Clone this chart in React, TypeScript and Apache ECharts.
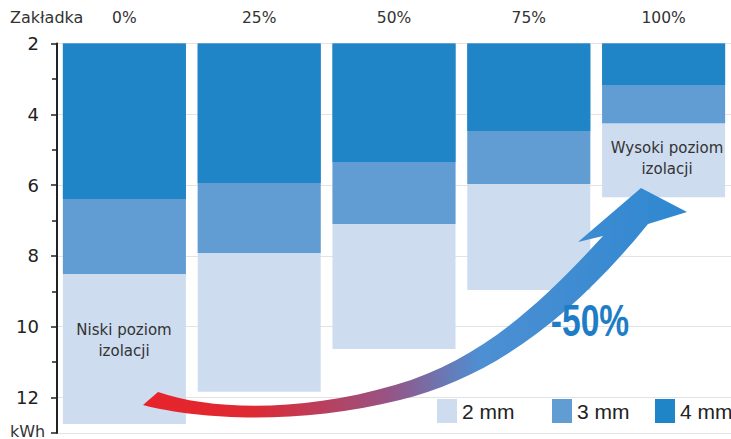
import React, { useEffect, useRef } from 'react';
import * as echarts from 'echarts';

const categories = ['0%', '25%', '50%', '75%', '100%'];
const seriesNames = ['2 mm', '3 mm', '4 mm'];
const mm2 = [12.75, 11.84, 10.63, 8.96, 6.34];
const mm3 = [8.51, 7.92, 7.1, 5.97, 4.25];
const mm4 = [6.39, 5.94, 5.35, 4.47, 3.17];
const colors = ['#cddcef', '#619dd3', '#1f85c6'];

const arrowPath =
  'M143 405 C200 420 300 425 400 400 C490 378 570 320 648 224 L687 212 L641 188 L578 242 L603 236 C540 305 480 360 395 385 C300 413 210 410 158 392 Z';

echarts.graphic.registerShape('bigArrow', echarts.graphic.extendPath(arrowPath, {}) as any);

export default function App() {
  const ref = useRef<HTMLDivElement>(null);
  useEffect(() => {
    if (!ref.current) return;
    const chart = echarts.init(ref.current, null, { renderer: 'svg' });
    const legendLefts = [437, 552, 655];
    const font = 'DejaVu Sans';
    chart.setOption({
      animation: false,
      backgroundColor: '#ffffff',
      grid: { left: 57, top: 43.5, width: 677.5, height: 389.4, containLabel: false },
      xAxis: {
        type: 'category',
        data: categories,
        position: 'top',
        axisLine: { show: false, onZero: false },
        axisTick: { show: false },
        axisLabel: { fontSize: 15.5, color: '#333', margin: 18, fontFamily: font },
      },
      yAxis: {
        type: 'value',
        inverse: true,
        min: 2,
        max: 13,
        interval: 2,
        axisLine: { show: true, lineStyle: { color: '#222', width: 2 } },
        axisTick: { show: true, length: 6, lineStyle: { color: '#222', width: 1.5 } },
        minorTick: { show: true, splitNumber: 2, length: 5, lineStyle: { color: '#222', width: 1.5 } },
        axisLabel: { fontSize: 18, color: '#222', margin: 18, fontFamily: font, showMaxLabel: false },
        splitLine: { show: true, lineStyle: { color: '#e3e3e3', width: 1 } },
      },
      legend: seriesNames.map((n, i) => ({
        data: [n],
        left: legendLefts[i],
        top: 399,
        itemWidth: 20,
        itemHeight: 24,
        icon: 'rect',
        itemGap: 0,
        padding: 0,
        textStyle: { fontSize: 21, color: '#222', fontFamily: 'Liberation Sans' },
      })),
      series: [mm2, mm3, mm4].map((d, i) => ({
        name: seriesNames[i],
        type: 'bar',
        data: d,
        barWidth: 123,
        barGap: '-100%',
        clip: true,
        itemStyle: { color: colors[i] },
      })),
      graphic: [
        {
          type: 'bigArrow',
          x: 0,
          y: 0,
          z: 100,
          style: {
            fill: new echarts.graphic.LinearGradient(0, 0, 1, 0, [
              { offset: 0, color: '#e8232a' },
              { offset: 0.2, color: '#de2a33' },
              { offset: 0.45, color: '#975384' },
              { offset: 0.62, color: '#4d8fd3' },
              { offset: 1, color: '#2e88d0' },
            ]),
          },
        },
        {
          type: 'text',
          x: 590,
          y: 320,
          scaleX: 0.78,
          scaleY: 1.05,
          z: 101,
          style: {
            text: '-50%',
            x: 0,
            y: 0,
            align: 'center',
            verticalAlign: 'middle',
            fontSize: 43,
            fontWeight: 'bold',
            fontFamily: 'Liberation Sans Narrow, Liberation Sans',
            fill: '#1e7dc4',
          },
        },
        {
          type: 'text',
          x: 124,
          y: 340,
          z: 101,
          style: {
            text: 'Niski poziom\nizolacji',
            align: 'center',
            verticalAlign: 'middle',
            fontSize: 15,
            lineHeight: 21,
            fontFamily: font,
            fill: '#333',
          },
        },
        {
          type: 'text',
          x: 667,
          y: 158,
          z: 101,
          style: {
            text: 'Wysoki poziom\nizolacji',
            align: 'center',
            verticalAlign: 'middle',
            fontSize: 15,
            lineHeight: 21,
            fontFamily: font,
            fill: '#333',
          },
        },
        {
          type: 'text',
          x: 10,
          y: 17,
          style: { text: 'Zakładka', verticalAlign: 'middle', fontSize: 16, fontFamily: font, fill: '#333' },
        },
        {
          type: 'text',
          x: 10,
          y: 431,
          style: { text: 'kWh', verticalAlign: 'middle', fontSize: 16, fontFamily: font, fill: '#333' },
        },
      ],
    });
    return () => chart.dispose();
  }, []);
  return <div ref={ref} style={{ position: 'fixed', left: 0, top: 0, width: 731, height: 439 }} />;
}
